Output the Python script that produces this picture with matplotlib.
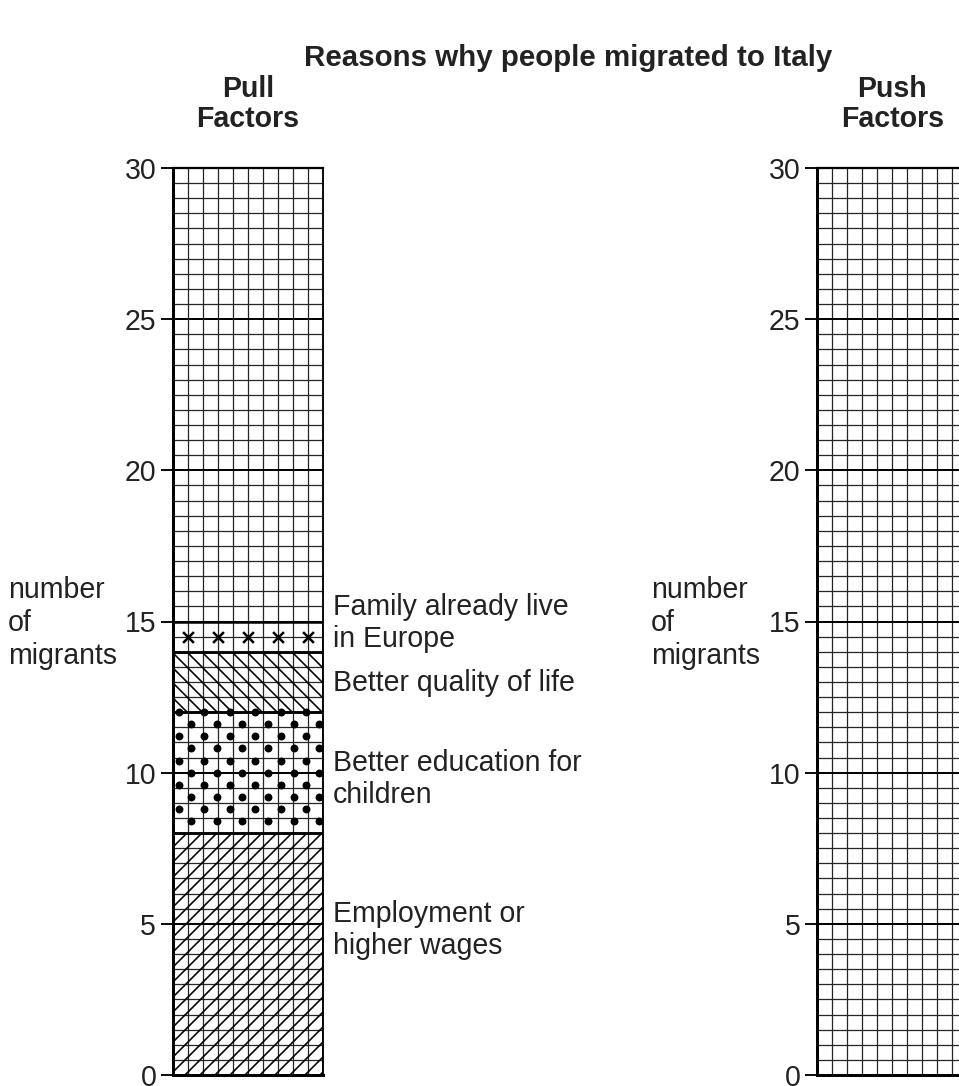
import numpy as np
import matplotlib
matplotlib.use("Agg")
import matplotlib.pyplot as plt

# ---------------- data ----------------
title = "Reasons why people migrated to Italy"
panel_titles = ["Pull\nFactors", "Push\nFactors"]
pull_categories = ["Employment or\nhigher wages",
                   "Better education for\nchildren",
                   "Better quality of life",
                   "Family already live\nin Europe"]
pull_values = [8, 4, 2, 1]
pull_hatches = ["//", "dots", "\\\\", "crosses"]
y_ticks = [0, 5, 10, 15, 20, 25, 30]
y_label = "number\nof\nmigrants"

# ---------------- layout ----------------
DPI = 90
W, H = 959, 1086
PX = 72 / DPI  # points per pixel
plt.rcParams['font.family'] = ['Liberation Sans', 'DejaVu Sans']
plt.rcParams['hatch.linewidth'] = 1.3

fig = plt.figure(figsize=(W / DPI, H / DPI), dpi=DPI)

ax_left_px = [172.5, 817]
ax_w_px = 150.5
ax_top_px, ax_bot_px = 168, 1075
label_y = [4.8, 9.8, 12.95, 14.95]

fs = 28.5 * PX


def grid_panel(ax):
    ax.set_xlim(0, 10)
    ax.set_ylim(0, 30)
    for x in range(1, 10):
        ax.axvline(x, color='#262626', lw=1.0, zorder=1)
    for y in np.arange(0.5, 30, 0.5):
        major = (y % 5 == 0)
        ax.axhline(y, color='black' if major else '#262626',
                   lw=1.6 if major else 1.0, zorder=1)
    for side in ['left', 'bottom']:
        ax.spines[side].set_linewidth(2.4)
    ax.spines['top'].set_linewidth(1.8)
    ax.spines['right'].set_linewidth(1.5)
    ax.set_xticks([])
    ax.set_yticks(y_ticks)
    ax.tick_params(axis='y', length=10, width=1.5, pad=3,
                   labelsize=fs, direction='out', labelcolor='#222222')
    ax.set_facecolor('none')


axes = []
for lp in ax_left_px:
    ax = fig.add_axes([lp / W, (H - ax_bot_px) / H, ax_w_px / W,
                       (ax_bot_px - ax_top_px) / H])
    grid_panel(ax)
    axes.append(ax)

# ---------------- pull factor stacked bar ----------------
ax = axes[0]
bottoms = np.concatenate([[0], np.cumsum(pull_values)[:-1]])
for val, bot, hatch, lab, ly in zip(pull_values, bottoms, pull_hatches,
                                    pull_categories, label_y):
    h = hatch if hatch in ('//', '\\\\') else None
    ax.bar(5, val, width=10, bottom=bot, facecolor='none', edgecolor='black',
           hatch=h, linewidth=2.0, zorder=2)
    top = bot + val
    if hatch == 'dots':
        rows = np.arange(top, bot, -0.4)
        for i, yy in enumerate(rows):
            start = 0.4 if i % 2 == 0 else 1.25
            xs = np.arange(start, 10, 1.7)
            ax.scatter(xs, np.full_like(xs, yy), s=40, color='black',
                       zorder=3, clip_on=True, linewidths=0)
    elif hatch == 'crosses':
        xs = np.arange(1, 10, 2)
        ax.scatter(xs, np.full(len(xs), bot + val / 2), marker='x', s=75,
                   color='black', linewidths=2.0, zorder=3)
    ax.annotate(lab, xy=(10, ly), xytext=(10 * PX, 0),
                textcoords='offset points', ha='left', va='center',
                fontsize=fs, color='#222222', linespacing=1.18,
                annotation_clip=False)

# ---------------- texts ----------------
fig.text(568 / W, 1 - 58 / H, title, ha='center', va='center',
         fontsize=29.5 * PX, fontweight='bold', color='#222222')
for lp, t in zip(ax_left_px, panel_titles):
    fig.text((lp + ax_w_px / 2) / W, 1 - 104 / H, t, ha='center',
             va='center', fontsize=fs, fontweight='bold', color='#222222',
             linespacing=1.08)
for xpx in [8, 651]:
    fig.text(xpx / W, 1 - 623 / H, y_label, ha='left', va='center',
             fontsize=fs, color='#222222', linespacing=1.22)

fig.savefig("out.png", dpi=DPI)
